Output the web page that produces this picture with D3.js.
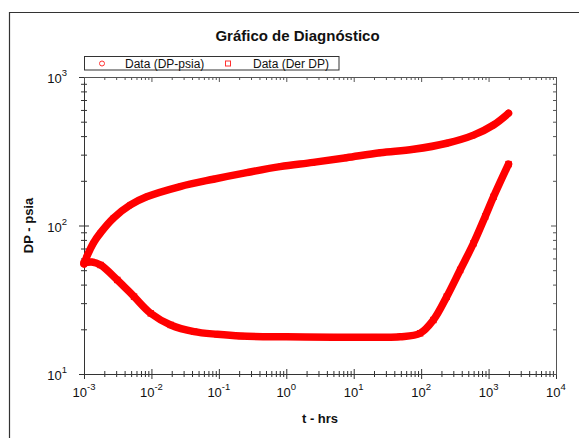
<!DOCTYPE html>
<html><head><meta charset="utf-8">
<script src="https://cdn.jsdelivr.net/npm/d3@7/dist/d3.min.js"></script>
<style>
html,body{margin:0;padding:0;background:#fff;}
svg{display:block;font-family:"Liberation Sans",Arial,sans-serif;}
</style></head>
<body>
<script>
// ---- data ----
const chartTitle = "Gráfico de Diagnóstico";
const xTitle = "t - hrs";
const yTitle = "DP - psia";
const seriesNames = ["Data (DP-psia)", "Data (Der DP)"];

const tDP = [0.001, 0.0011, 0.00137, 0.00173, 0.00272, 0.00481, 0.0085, 0.0266, 0.0829, 0.259, 0.81, 2.5, 7.8, 24.7, 76.9, 240, 598, 1184, 1977];
const vDP = [55, 61.7, 75.9, 88.5, 112, 137, 156, 183, 205, 227, 249, 266, 286, 309, 326, 358, 406, 475, 570];

const tDer = [0.001, 0.0013, 0.00176, 0.00312, 0.00552, 0.00977, 0.0193, 0.0429, 0.095, 0.211, 1, 5, 20, 48.8, 96.6, 152, 240, 379, 598, 891, 1184, 1977];
const vDer = [56, 56.8, 54.2, 43, 33.2, 25.6, 21.4, 19.3, 18.5, 18.0, 17.8, 17.7, 17.7, 17.8, 18.8, 23.1, 33.2, 50.2, 75.9, 115, 156, 259];

const xMajor = [1e-3, 1e-2, 1e-1, 1e0, 1e1, 1e2, 1e3, 1e4];
const xExp = ["-3", "-2", "-1", "0", "1", "2", "3", "4"];
const yMajor = [10, 100, 1000];
const yExp = ["1", "2", "3"];

// ---- drawing ----
const W = 579, H = 438;
const svg = d3.select("body").append("svg").attr("width", W).attr("height", H);

const x = d3.scaleLog().domain([1e-3, 1e4]).range([84, 556]);
const y = d3.scaleLog().domain([10, 1000]).range([374, 77]);

function minorsOf(majors) {
  const out = [];
  for (let i = 0; i < majors.length - 1; i++)
    for (let k = 2; k <= 9; k++) out.push(majors[i] * k);
  return out;
}
const xMinor = minorsOf(xMajor), yMinor = minorsOf(yMajor);

// outer frame
svg.append("path").attr("d", `M9.5,${H}V12.5H${W}`).attr("fill", "none").attr("stroke", "#333").attr("stroke-width", 1.2);

// title
svg.append("text").attr("x", 297.5).attr("y", 41).attr("text-anchor", "middle")
  .attr("font-size", 15).attr("font-weight", "bold").attr("fill", "#111").text(chartTitle);

// axes helpers
const axisCol = "#333";
function crossTicks(g, vertical) {
  g.selectAll(".tick line").each(function () {
    const l = d3.select(this);
    if (vertical) { const v = +l.attr("x2"); l.attr("x1", -v); }
    else { const v = +l.attr("y2"); l.attr("y1", -v); }
  });
}
function styleAxis(g, col) {
  g.select(".domain").attr("stroke", col);
  g.selectAll(".tick line").attr("stroke", col);
  g.selectAll(".tick text").remove();
}

// bottom
[[xMinor, 3], [xMajor, 5]].forEach(([vals, s]) => {
  const g = svg.append("g").attr("transform", "translate(0,374)")
    .call(d3.axisBottom(x).tickValues(vals).tickSize(s).tickSizeOuter(0).tickFormat(""));
  styleAxis(g, axisCol); crossTicks(g, false);
});
// left
[[yMinor, 3], [yMajor, 5]].forEach(([vals, s]) => {
  const g = svg.append("g").attr("transform", "translate(84,0)")
    .call(d3.axisLeft(y).tickValues(vals).tickSize(s).tickSizeOuter(0).tickFormat(""));
  styleAxis(g, axisCol); crossTicks(g, true);
});
// top (inward)
[[xMinor, 3], [xMajor, 5]].forEach(([vals, s]) => {
  const g = svg.append("g").attr("transform", "translate(0,77)")
    .call(d3.axisBottom(x).tickValues(vals).tickSize(s).tickSizeOuter(0).tickFormat(""));
  styleAxis(g, "#555");
});
// right (inward)
[[yMinor, 3], [yMajor, 5]].forEach(([vals, s]) => {
  const g = svg.append("g").attr("transform", "translate(556,0)")
    .call(d3.axisLeft(y).tickValues(vals).tickSize(s).tickSizeOuter(0).tickFormat(""));
  styleAxis(g, "#555");
});

// x tick labels
xMajor.forEach((v, i) => {
  const t = svg.append("text").attr("x", x(v)).attr("y", 397).attr("text-anchor", "middle")
    .attr("font-size", 13).attr("fill", "#111");
  t.append("tspan").text("10");
  t.append("tspan").attr("dy", -7).attr("font-size", 9.5).text(xExp[i]);
});
// y tick labels
yMajor.forEach((v, i) => {
  const t = svg.append("text").attr("x", 67).attr("y", y(v) + 6).attr("text-anchor", "end")
    .attr("font-size", 13).attr("fill", "#111");
  t.append("tspan").text("10");
  t.append("tspan").attr("dy", -7).attr("font-size", 9.5).text(yExp[i]);
});

// axis titles
svg.append("text").attr("x", 320).attr("y", 423).attr("text-anchor", "middle")
  .attr("font-size", 13).attr("font-weight", "bold").attr("fill", "#111").text(xTitle);
svg.append("text").attr("transform", "translate(33,225.5) rotate(-90)").attr("text-anchor", "middle")
  .attr("font-size", 13).attr("font-weight", "bold").attr("fill", "#111").text(yTitle);

// legend
svg.append("rect").attr("x", 84.5).attr("y", 56.5).attr("width", 254.5).attr("height", 13.5)
  .attr("fill", "#fff").attr("stroke", "#333").attr("stroke-width", 1);
svg.append("circle").attr("cx", 102).attr("cy", 63.5).attr("r", 2.5)
  .attr("fill", "none").attr("stroke", "#ff3030").attr("stroke-width", 1);
svg.append("rect").attr("x", 225.5).attr("y", 61).attr("width", 5).attr("height", 5)
  .attr("fill", "none").attr("stroke", "#ff3030").attr("stroke-width", 1);
svg.append("text").attr("x", 125).attr("y", 67.5).attr("font-size", 12).attr("fill", "#111").text(seriesNames[0]);
svg.append("text").attr("x", 253).attr("y", 67.5).attr("font-size", 12).attr("fill", "#111").text(seriesNames[1]);

// series
const red = "#ff0000";
const dpData = tDP.map((t, i) => ({ t, v: vDP[i] }));
const derData = tDer.map((t, i) => ({ t, v: vDer[i] }));
const line = d3.line().x(d => x(d.t)).y(d => y(d.v)).curve(d3.curveCatmullRom.alpha(0.5));

[derData, dpData].forEach(data => {
  svg.append("path").attr("d", line(data)).attr("fill", "none").attr("stroke", red)
    .attr("stroke-width", 7.5).attr("stroke-linecap", "round").attr("stroke-linejoin", "round");
});
svg.append("g").selectAll("circle").data(dpData).join("circle")
  .attr("cx", d => x(d.t)).attr("cy", d => y(d.v)).attr("r", 3.4).attr("fill", red);
svg.append("g").selectAll("rect").data(derData).join("rect")
  .attr("x", d => x(d.t) - 3.2).attr("y", d => y(d.v) - 3.2).attr("width", 6.4).attr("height", 6.4).attr("fill", red);
</script>
</body></html>
